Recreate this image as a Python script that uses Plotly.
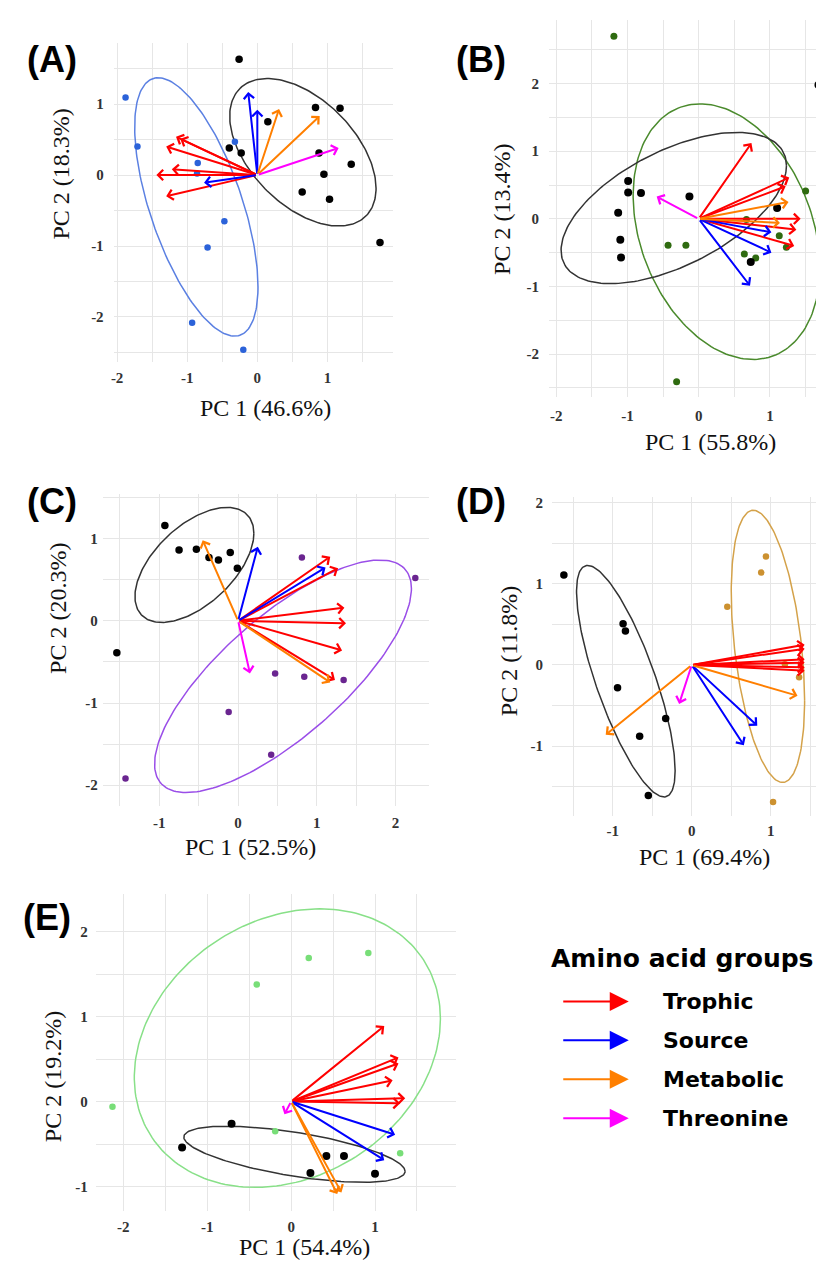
import numpy as np
import plotly.graph_objects as go

W, H = 824, 1262

# ---------------- data (PC1, PC2) ----------------
# Panel A
A_black = [(-0.26, 1.63), (0.83, 0.95), (1.18, 0.94), (0.15, 0.75), (-0.40, 0.38), (-0.23, 0.31),
           (0.88, 0.31), (1.34, 0.15), (0.95, 0.01), (0.64, -0.24), (1.03, -0.34), (1.75, -0.95)]
A_group = [(-1.88, 1.09), (-1.71, 0.40), (-0.32, 0.47), (-0.85, 0.17), (-0.86, 0.02), (-0.47, -0.65),
           (-0.71, -1.02), (-0.93, -2.08), (-0.20, -2.46)]
A_trophic = [(-1.16, 0.54), (-1.10, 0.51), (-1.30, 0.40), (-1.22, 0.08), (-1.44, 0.0), (-1.30, -0.30)]
A_source = [(-0.13, 1.17), (0.0, 0.92), (-0.76, -0.11)]
A_metabolic = [(0.31, 0.93), (0.89, 0.83)]
A_threonine = [(1.16, 0.38)]
A_ell_black = (0.65, 0.32, 1.09, 1.08, -0.53)   # cx, cy, var_x, var_y, cov
A_ell_group = (-0.87, -0.45, 0.774, 3.31, -0.99)

# Panel B
B_black = [(1.68, 1.98), (-0.99, 0.56), (-0.99, 0.39), (-0.81, 0.38), (-0.13, 0.33), (-1.13, 0.09),
           (-1.10, -0.31), (-1.09, -0.57), (1.10, 0.16), (0.73, -0.64)]
B_group = [(-1.19, 2.70), (1.50, 0.41), (0.67, -0.01), (1.13, -0.25), (1.23, -0.42), (-0.43, -0.39),
           (-0.18, -0.39), (0.64, -0.52), (0.80, -0.58), (-0.31, -2.41)]
B_trophic = [(0.74, 1.12), (1.27, 0.61), (1.22, 0.48), (1.43, 0.0), (1.37, -0.16), (1.34, -0.40)]
B_source = [(1.02, -0.20), (1.02, -0.50), (0.72, -0.99)]
B_metabolic = [(1.26, 0.25), (1.14, -0.06)]
B_threonine = [(-0.59, 0.33)]
B_ell_black = (-0.35, 0.16, 2.50, 1.25, 0.99)
B_ell_group = (0.39, -0.19, 1.716, 3.57, -0.70)

# Panel C
C_black = [(-0.93, 1.16), (-0.75, 0.86), (-0.53, 0.87), (-0.37, 0.77), (-0.25, 0.74), (-0.10, 0.83),
           (-0.01, 0.64), (-1.54, -0.39)]
C_group = [(0.81, 0.77), (2.25, 0.52), (0.47, -0.64), (0.84, -0.68), (1.34, -0.72), (-0.12, -1.11),
           (0.42, -1.63), (-1.43, -1.92)]
C_trophic = [(1.17, 0.78), (1.27, 0.64), (1.35, 0.16), (1.37, -0.03), (1.32, -0.36), (1.23, -0.72)]
C_source = [(0.25, 0.90), (1.11, 0.65)]
C_metabolic = [(-0.45, 0.98), (1.17, -0.75)]
C_threonine = [(0.15, -0.64)]
C_ell_black = (-0.555, 0.68, 0.57, 0.49, 0.29)
C_ell_group = (0.57, -0.675, 2.66, 2.0, 1.74)

# Panel D
D_black = [(-1.62, 1.11), (-0.87, 0.51), (-0.84, 0.42), (-0.94, -0.28), (-0.33, -0.66), (-0.66, -0.88),
           (-0.55, -1.61)]
D_group = [(0.94, 1.34), (0.88, 1.14), (0.45, 0.72), (1.18, 0.01), (1.36, -0.15), (1.03, -1.69)]
D_trophic = [(1.43, 0.25), (1.43, 0.20), (1.43, 0.07), (1.43, 0.03), (1.43, -0.03), (1.43, -0.07)]
D_source = [(0.83, -0.75), (0.66, -0.99)]
D_metabolic = [(1.34, -0.38), (-1.09, -0.86)]
D_threonine = [(-0.16, -0.48)]
D_ell_black = (-0.835, -0.20, 0.39, 2.04, -0.69)
D_ell_group = (0.965, 0.23, 0.216, 2.82, -0.31)

# Panel E
E_black = [(-0.71, -0.26), (-1.30, -0.54), (0.42, -0.64), (0.63, -0.64), (0.23, -0.84), (1.0, -0.85)]
E_group = [(0.92, 1.75), (0.21, 1.69), (-0.41, 1.38), (-2.13, -0.06), (-0.19, -0.35), (1.30, -0.61)]
E_trophic = [(1.11, 0.89), (1.28, 0.52), (1.28, 0.45), (1.21, 0.25), (1.36, 0.04), (1.30, -0.02)]
E_source = [(1.24, -0.39), (1.11, -0.69)]
E_metabolic = [(0.55, -1.09), (0.60, -1.07)]
E_threonine = [(-0.08, -0.15)]
E_ell_black = (0.04, -0.62, 1.74, 0.109, -0.267)
E_ell_group = (-0.045, 0.63, 3.33, 2.69, 0.63)

# axis labels
A_xticks, A_yticks = [-2, -1, 0, 1], [-2, -1, 0, 1]
B_xticks, B_yticks = [-2, -1, 0, 1], [-2, -1, 0, 1, 2]
C_xticks, C_yticks = [-1, 0, 1, 2], [-2, -1, 0, 1]
D_xticks, D_yticks = [-1, 0, 1], [-1, 0, 1, 2]
E_xticks, E_yticks = [-2, -1, 0, 1], [-1, 0, 1, 2]
x_titles = ["PC 1 (46.6%)", "PC 1 (55.8%)", "PC 1 (52.5%)", "PC 1 (69.4%)", "PC 1 (54.4%)"]
y_titles = ["PC 2 (18.3%)", "PC 2 (13.4%)", "PC 2 (20.3%)", "PC 2 (11.8%)", "PC 2 (19.2%)"]
panel_labels = ["(A)", "(B)", "(C)", "(D)", "(E)"]
legend_title = "Amino acid groups"
legend_labels = ["Trophic", "Source", "Metabolic", "Threonine"]

# ---------------- styling / layout ----------------
ARROW_COLORS = {"Trophic": "#ff0000", "Source": "#0000ff", "Metabolic": "#ff7f00", "Threonine": "#ff00ff"}

panels = [
    dict(black=A_black, group=A_group, arrows=[A_trophic, A_source, A_metabolic, A_threonine],
         ell_black=A_ell_black, ell_group=A_ell_group, xt=A_xticks, yt=A_yticks,
         box=(103, 383, 33, 353), xr=[-2.05, 1.93], yr=[-2.64, 1.86],
         gcol="#2b62d9", ecol="#5b80e2", bsize=7.5, gsize=6.5,
         ytl=(50, 164), xtl=(255, 399), lab=(41, 50), xstand=5, ystand=9),
    dict(black=B_black, group=B_group, arrows=[B_trophic, B_source, B_metabolic, B_threonine],
         ell_black=B_ell_black, ell_group=B_ell_group, xt=B_xticks, yt=B_yticks,
         box=(540, 824, 10, 388), xr=[-2.1, 1.87], yr=[-2.64, 2.94],
         gcol="#2f6b10", ecol="#4a8a2c", bsize=8, gsize=7,
         ytl=(492, 200), xtl=(702, 433), lab=(472, 50), xstand=8, ystand=9),
    dict(black=C_black, group=C_group, arrows=[C_trophic, C_source, C_metabolic, C_threonine],
         ell_black=C_ell_black, ell_group=C_ell_group, xt=C_xticks, yt=C_yticks,
         box=(92, 420, 485, 797), xr=[-1.72, 2.43], yr=[-2.25, 1.54],
         gcol="#6a2590", ecol="#9a4ee8", bsize=7.5, gsize=6.5,
         ytl=(47, 599), xtl=(240, 838), lab=(41, 492), xstand=6, ystand=4),
    dict(black=D_black, group=D_group, arrows=[D_trophic, D_source, D_metabolic, D_threonine],
         ell_black=D_ell_black, ell_group=D_ell_group, xt=D_xticks, yt=D_yticks,
         box=(543, 810, 488, 807), xr=[-1.77, 1.60], yr=[-1.86, 2.07],
         gcol="#cc9130", ecol="#d4a24a", bsize=7.5, gsize=6.5,
         ytl=(500, 642), xtl=(696, 848), lab=(472, 492), xstand=4, ystand=8),
    dict(black=E_black, group=E_group, arrows=[E_trophic, E_source, E_metabolic, E_threonine],
         ell_black=E_ell_black, ell_group=E_ell_group, xt=E_xticks, yt=E_yticks,
         box=(85, 447, 885, 1203), xr=[-2.33, 1.97], yr=[-1.29, 2.45],
         gcol="#78de78", ecol="#88e088", bsize=8, gsize=6.5,
         ytl=(42, 1068), xtl=(295, 1239), lab=(36, 909), xstand=5, ystand=7),
]


def ellipse(params, n=200):
    cx, cy, vx, vy, cxy = params
    L = np.linalg.cholesky(np.array([[vx, cxy], [cxy, vy]]))
    t = np.linspace(0, 2 * np.pi, n)
    pts = L @ np.vstack([np.cos(t), np.sin(t)])
    return cx + pts[0], cy + pts[1]


def px(x):
    return x / W


def py(y):
    return 1 - y / H


fig = go.Figure()
annotations = []
layout_axes = {}
GRID = "#e6e6e6"
tickfont = dict(family="Liberation Serif", size=15, color="#333333", weight="bold")
titlefont = dict(family="Liberation Serif", size=24, color="#111111")

for i, p in enumerate(panels, start=1):
    xa = "x" if i == 1 else f"x{i}"
    ya = "y" if i == 1 else f"y{i}"
    xkey = "xaxis" if i == 1 else f"xaxis{i}"
    ykey = "yaxis" if i == 1 else f"yaxis{i}"
    l, r, t, b = p["box"]
    layout_axes[xkey] = dict(
        domain=[px(l), px(r)], range=p["xr"], anchor=ya,
        tickvals=p["xt"], ticktext=[f"{v:g}" for v in p["xt"]],
        showgrid=True, gridcolor=GRID, gridwidth=1.3, zeroline=False, showline=False,
        ticks="", tickfont=tickfont, ticklabelstandoff=p["xstand"], fixedrange=True,
        minor=dict(showgrid=True, dtick=0.5, tick0=0, gridcolor=GRID, gridwidth=1.3),
    )
    layout_axes[ykey] = dict(
        domain=[py(b), py(t)], range=p["yr"], anchor=xa,
        tickvals=p["yt"], ticktext=[f"{v:g}" for v in p["yt"]],
        showgrid=True, gridcolor=GRID, gridwidth=1.3, zeroline=False, showline=False,
        ticks="", tickfont=tickfont, ticklabelstandoff=p["ystand"], fixedrange=True,
        minor=dict(showgrid=True, dtick=0.5, tick0=0, gridcolor=GRID, gridwidth=1.3),
    )

    # ellipses
    ex, ey = ellipse(p["ell_group"])
    fig.add_trace(go.Scatter(x=ex, y=ey, mode="lines", line=dict(color=p["ecol"], width=1.5),
                             xaxis=xa, yaxis=ya, hoverinfo="skip"))
    ex, ey = ellipse(p["ell_black"])
    fig.add_trace(go.Scatter(x=ex, y=ey, mode="lines", line=dict(color="#333333", width=1.5),
                             xaxis=xa, yaxis=ya, hoverinfo="skip"))
    # points
    fig.add_trace(go.Scatter(x=[q[0] for q in p["group"]], y=[q[1] for q in p["group"]], mode="markers",
                             marker=dict(color=p["gcol"], size=p["gsize"]), xaxis=xa, yaxis=ya))
    fig.add_trace(go.Scatter(x=[q[0] for q in p["black"]], y=[q[1] for q in p["black"]], mode="markers",
                             marker=dict(color="#000000", size=p["bsize"]), xaxis=xa, yaxis=ya))
    # loading arrows
    for name, tips in zip(legend_labels, p["arrows"]):
        for (tx, ty) in tips:
            annotations.append(dict(
                x=tx, y=ty, ax=0, ay=0, xref=xa, yref=ya, axref=xa, ayref=ya,
                text="", showarrow=True, arrowhead=4, arrowsize=1.0, arrowwidth=2,
                arrowcolor=ARROW_COLORS[name], standoff=0, startstandoff=0))
    # axis titles
    annotations.append(dict(x=px(p["xtl"][0]), y=py(p["xtl"][1]), xref="paper", yref="paper",
                            text=x_titles[i - 1], showarrow=False, font=titlefont,
                            xanchor="center", yanchor="middle"))
    annotations.append(dict(x=px(p["ytl"][0]), y=py(p["ytl"][1]), xref="paper", yref="paper",
                            text=y_titles[i - 1], showarrow=False, font=titlefont, textangle=-90,
                            xanchor="center", yanchor="middle"))
    # panel label
    annotations.append(dict(x=px(p["lab"][0]), y=py(p["lab"][1]), xref="paper", yref="paper",
                            text=panel_labels[i - 1], showarrow=False,
                            font=dict(family="Liberation Sans", size=36, color="#000000", weight="bold"),
                            xanchor="center", yanchor="middle"))

# legend block
annotations.append(dict(x=px(673), y=py(950), xref="paper", yref="paper", text=legend_title,
                        showarrow=False, xanchor="center", yanchor="middle",
                        font=dict(family="DejaVu Sans", size=25, color="#000000", weight="bold")))
leg_y = [993, 1032, 1071, 1110]
for name, yy in zip(legend_labels, leg_y):
    annotations.append(dict(x=px(620), y=py(yy), xref="paper", yref="paper", ax=-67, ay=0,
                            text="", showarrow=True, arrowhead=2, arrowsize=1.9, arrowwidth=2,
                            arrowcolor=ARROW_COLORS[name], standoff=0))
    annotations.append(dict(x=px(652), y=py(yy), xref="paper", yref="paper", text=name,
                            showarrow=False, xanchor="left", yanchor="middle",
                            font=dict(family="DejaVu Sans", size=22, color="#000000", weight="bold")))

fig.update_layout(
    width=W, height=H, margin=dict(l=0, r=0, t=0, b=0),
    paper_bgcolor="white", plot_bgcolor="white", showlegend=False,
    annotations=annotations, **layout_axes,
)

fig.write_html("out.html")
